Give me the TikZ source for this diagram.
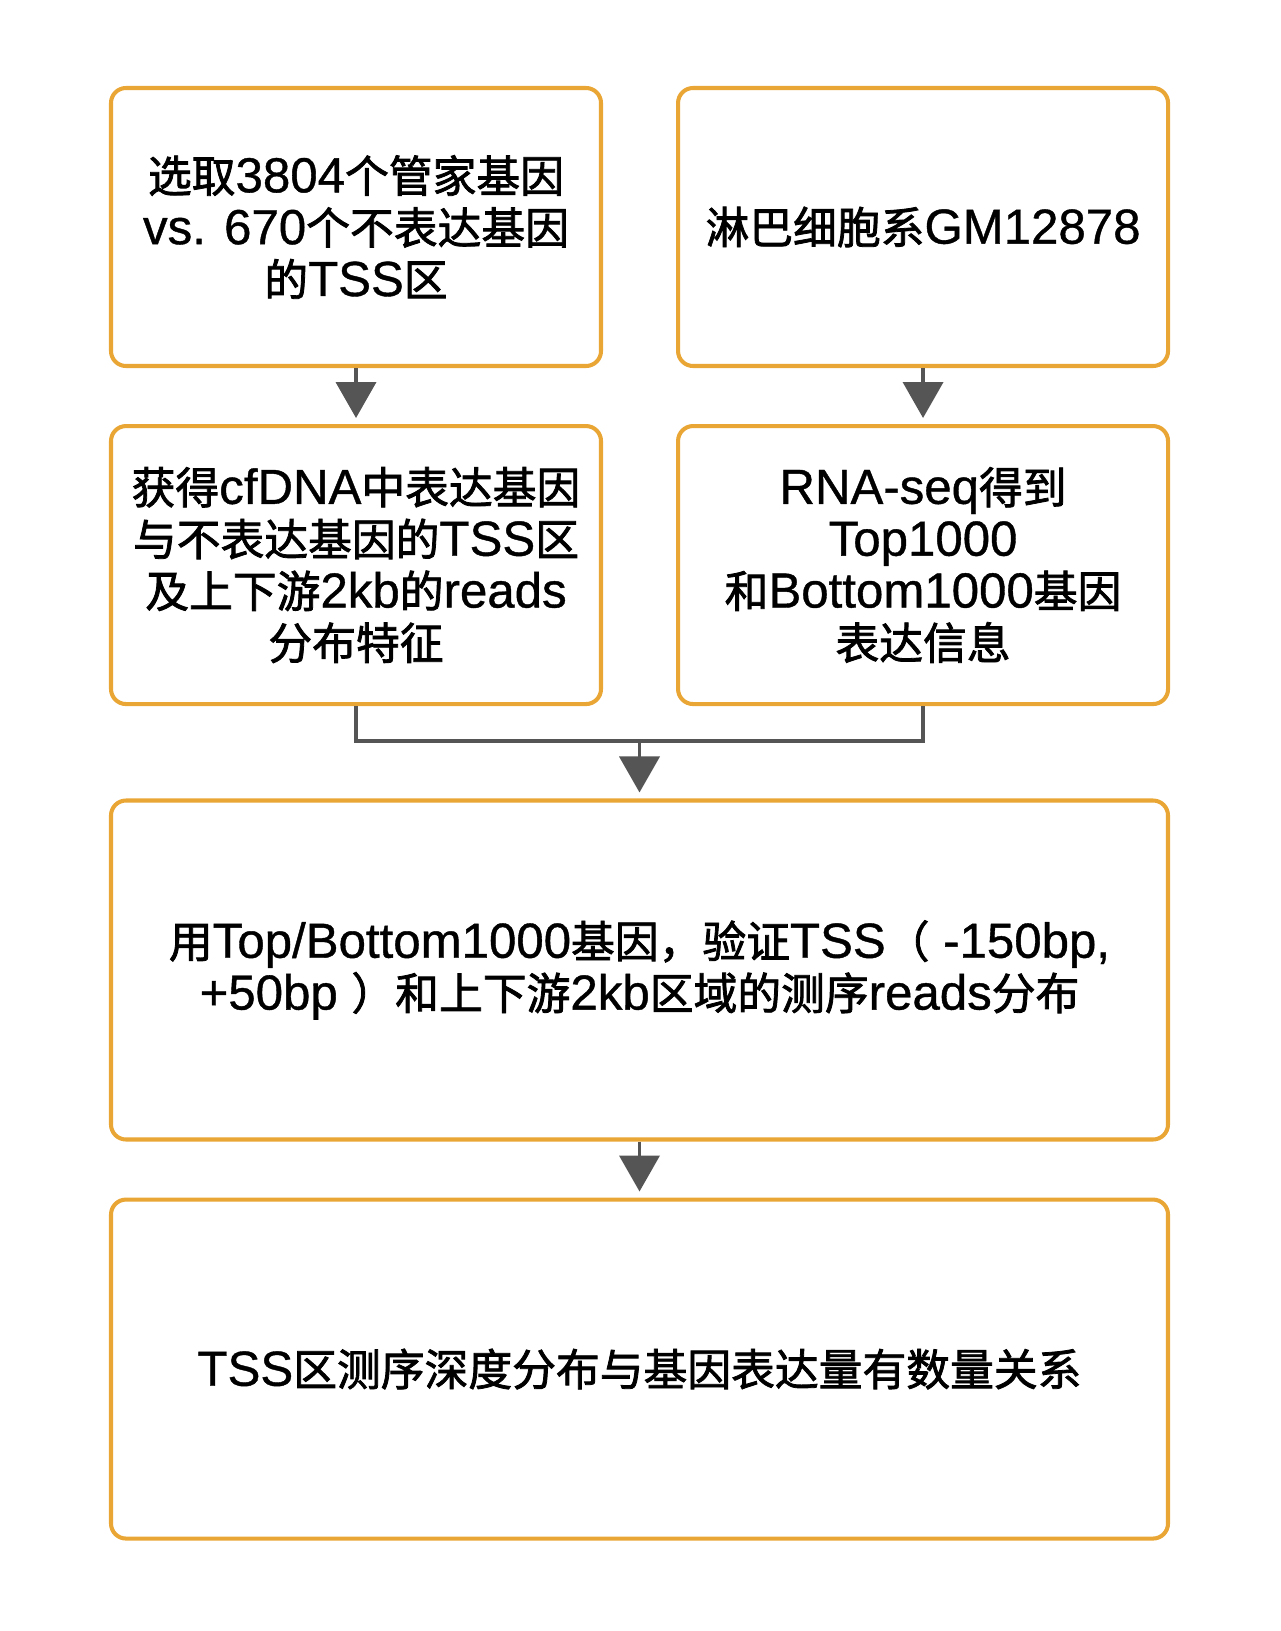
\documentclass[tikz,border=0pt]{standalone}
\usepackage{fontspec}
\setmainfont{Liberation Sans}[FakeBold=0.8]
\newfontfamily\cjkfont{Noto Sans CJK SC}[Scale=0.89, FakeBold=1.8]
% switch to the CJK font for ideographs and full-width marks
\XeTeXinterchartokenstate=1
\newXeTeXintercharclass\cjkclass
\count255="4E00
\loop
  \XeTeXcharclass\count255=\cjkclass
  \ifnum\count255<"9FFF \advance\count255 by 1
\repeat
\XeTeXcharclass"FF0C=\cjkclass
\XeTeXcharclass"FF08=\cjkclass
\XeTeXcharclass"FF09=\cjkclass
\XeTeXinterchartoks 0 \cjkclass = {\begingroup\cjkfont}
\XeTeXinterchartoks 4095 \cjkclass = {\begingroup\cjkfont}
\XeTeXinterchartoks \cjkclass 0 = {\endgroup}
\XeTeXinterchartoks \cjkclass 4095 = {\endgroup}
\usepackage{tikz}
\usetikzlibrary{arrows.meta, positioning}
\definecolor{boxorange}{HTML}{E9A634}
\definecolor{arrowgray}{HTML}{555555}

\begin{document}
\begin{tikzpicture}[
    node distance=1.12cm,
    stepbox/.style={rectangle, draw=boxorange, line width=2.3pt, rounded corners=0.3cm, fill=white, align=center, font=\fontsize{28}{29.5}\selectfont, minimum width=9.8cm, minimum height=5.56cm},
    widebox/.style={stepbox, minimum width=21.14cm, minimum height=6.78cm},
    flow/.style={draw=arrowgray, line width=2.2pt, -{Triangle[width=0.8cm, length=0.72cm]}, shorten >=0.12cm},
    >=stealth
]

\useasboundingbox (0,0) rectangle (25.6,-32.62);

% Nodes
\node[stepbox] (select) at (7.12,-4.54) {选取3804个管家基因\\vs. 670个不表达基因\\的TSS区};
\node[stepbox] (cellline) [right=1.46cm of select] {淋巴细胞系GM12878};
\node[stepbox] (profile) [below=of select] {获得cfDNA中表达基因\\与不表达基因的TSS区\\及上下游2kb的reads\\分布特征};
\node[stepbox] (rnaseq) [below=of cellline] {RNA-seq得到\\Top1000\\和Bottom1000基因\\表达信息};
\node[widebox] (verify) at (12.79,-19.4) {用Top/Bottom1000基因，验证TSS（ -150bp,\\+50bp ）和上下游2kb区域的测序reads分布};
\node[widebox] (result) [below=of verify] {TSS区测序深度分布与基因表达量有数量关系};

% Arrows
\coordinate[below=0.7cm of profile.south] (leftjoin);
\coordinate (join) at (verify.north |- leftjoin);
\draw [flow] (select) -- (profile);
\draw [flow] (cellline) -- (rnaseq);
\draw [draw=arrowgray, line width=2.2pt] (profile.south) |- (join) -| (rnaseq.south);
\draw [flow] (join) -- (verify);
\draw [flow] (verify) -- (result);

\end{tikzpicture}
\end{document}
